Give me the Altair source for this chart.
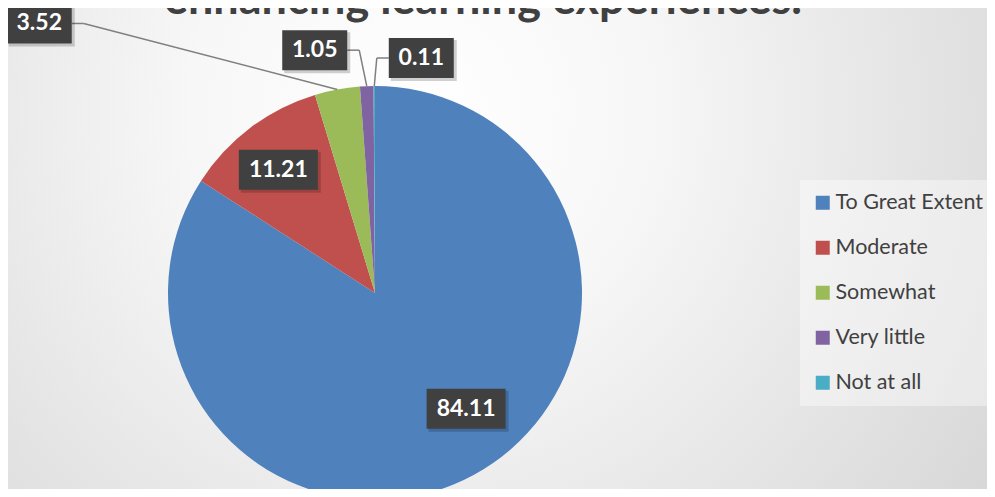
import altair as alt
import pandas as pd

# ---- data ----
categories = ["To Great Extent", "Moderate", "Somewhat", "Very little", "Not at all"]
values = [84.11, 11.21, 3.52, 1.05, 0.11]
colors = ["#4F81BD", "#C0504D", "#9BBB59", "#8064A2", "#4BACC6"]
title_text = "enhancing learning experiences."

# ---- layout (label nudges from each slice's outer-edge midpoint, in px) ----
label_dx = [-8, 28, -298, -52, 47]
label_dy = [-66, 42, -66, -36, -28]
has_leader = [0, 0, 1, 1, 1]

W, H = 979, 481
CX, CY, R = 367, 285, 207
FONT = "Lato"

df = pd.DataFrame({
    "category": categories,
    "value": values,
    "order": list(range(len(categories))),
    "ldx": label_dx,
    "ldy": label_dy,
    "leader": has_leader,
})

pos = (
    alt.Chart(df)
    .transform_joinaggregate(total="sum(value)")
    .transform_window(cum="sum(value)", sort=[alt.SortField("order")], frame=[None, 0])
    .transform_calculate(
        mid="2*PI*(datum.cum - datum.value/2)/datum.total",
        ex=f"{CX} + {R}*sin(datum.mid)",
        ey=f"{CY} - {R}*cos(datum.mid)",
        lx="datum.ex + datum.ldx",
        ly="datum.ey + datum.ldy",
        bw="14*length(format(datum.value, '.2f')) + 9",
        bx1="datum.lx - datum.bw/2",
        bx2="datum.lx + datum.bw/2",
        by1="datum.ly - 20",
        by2="datum.ly + 20",
        sx1="datum.bx1 + 2",
        sx2="datum.bx2 + 3",
        sy1="datum.by1 + 2",
        sy2="datum.by2 + 3",
        side="datum.lx < datum.ex ? 1 : -1",
        ax="datum.lx + datum.side*datum.bw/2",
        bx="datum.ax + datum.side*12",
    )
)

bg_gradient = {
    "gradient": "radial",
    "x1": 0.42, "y1": 0.36, "r1": 0,
    "x2": 0.42, "y2": 0.36, "r2": 0.78,
    "stops": [
        {"offset": 0, "color": "#ffffff"},
        {"offset": 0.3, "color": "#f7f7f7"},
        {"offset": 1, "color": "#d2d2d2"},
    ],
}

background = alt.Chart(pd.DataFrame({"a": [0]})).mark_rect(fill=bg_gradient).encode(
    x=alt.value(0), x2=alt.value("width"), y=alt.value(0), y2=alt.value("height")
)

arcs = alt.Chart(df).mark_arc(outerRadius=R).encode(
    theta=alt.Theta("value:Q", stack=True),
    order=alt.Order("order:Q"),
    color=alt.Color(
        "category:N",
        scale=alt.Scale(domain=categories, range=colors),
        sort=categories,
        legend=alt.Legend(
            orient="none",
            legendX=792,
            legendY=172,
            title=None,
            symbolType="square",
            symbolSize=196,
            symbolStrokeWidth=0,
            labelFont=FONT,
            labelFontSize=21.5,
            labelColor="#404040",
            labelOffset=2,
            labelLimit=300,
            rowPadding=22,
            padding=12,
            fillColor="rgba(255,255,255,0.4)",
        ),
    ),
    x=alt.value(CX),
    y=alt.value(CY),
)

lead = pos.transform_filter("datum.leader == 1")
stub = lead.mark_rule(color="#7f7f7f", strokeWidth=1.5).encode(
    x=alt.X("ax:Q", scale=None), x2="bx:Q", y=alt.Y("ly:Q", scale=None)
)
diag = lead.mark_rule(color="#7f7f7f", strokeWidth=1.5).encode(
    x=alt.X("bx:Q", scale=None), x2="ex:Q", y=alt.Y("ly:Q", scale=None), y2="ey:Q"
)

shadow = pos.mark_rect(color="#000000", opacity=0.18).encode(
    x=alt.X("sx1:Q", scale=None), x2="sx2:Q", y=alt.Y("sy1:Q", scale=None), y2="sy2:Q"
)
boxes = pos.mark_rect(color="#404040").encode(
    x=alt.X("bx1:Q", scale=None), x2="bx2:Q", y=alt.Y("by1:Q", scale=None), y2="by2:Q"
)
labels = pos.mark_text(
    font=FONT, fontWeight="bold", fontSize=23, color="#ffffff", baseline="middle", align="center"
).encode(
    x=alt.X("lx:Q", scale=None),
    y=alt.Y("ly:Q", scale=None),
    text=alt.Text("value:Q", format=".2f"),
)

title = alt.Chart(pd.DataFrame({"t": [title_text]})).mark_text(
    font=FONT, fontWeight="bold", fontSize=45, color="#404040", baseline="alphabetic", align="center"
).encode(text="t:N", x=alt.value(475), y=alt.value(6))

chart = (
    alt.layer(background, arcs, stub, diag, shadow, boxes, labels, title)
    .properties(width=W, height=H, padding=0, autosize=alt.AutoSizeParams(type="none"))
    .configure_view(stroke=None)
    .configure(background="#ffffff")
)

chart.save("out.html", embed_options={"renderer": "svg", "actions": False})
